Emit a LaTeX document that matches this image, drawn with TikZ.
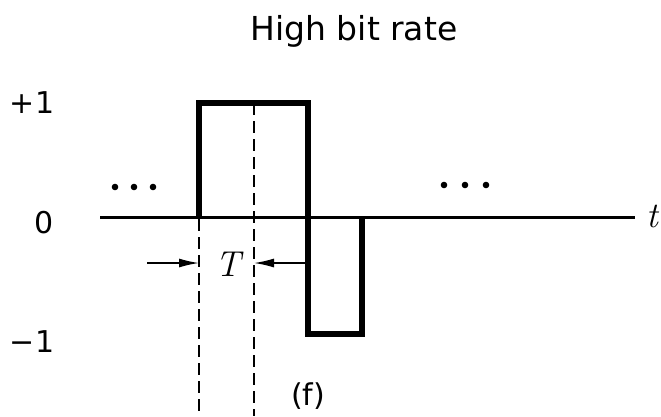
\documentclass[tikz,border=0pt]{standalone}
\usepackage{fontspec}
\setmainfont{DejaVu Sans}
\newfontfamily\lmitfont{Latin Modern Roman}
\usetikzlibrary{arrows.meta}
\tikzset{
  pulse/.style={line width=5.5pt, line join=miter, line cap=butt},
  axisline/.style={line width=3pt},
  guide/.style={line width=1.8pt, dash pattern=on 12pt off 6pt},
  dimarrow/.style={line width=1.5pt, -{Latex[length=20pt,width=9pt]}},
  lbl/.style={inner sep=0pt, font=\fontsize{30}{36}\selectfont},
  mathlbl/.style={inner sep=0pt, font=\fontsize{36}{42}\selectfont\lmitfont\itshape},
  dotmark/.style={fill=black, draw=none}
}
\begin{document}
\begin{tikzpicture}[x=1pt,y=-1pt]
\useasboundingbox (0,0) rectangle (661,416);
% key coordinates
\coordinate (a0) at (100,217);
\coordinate (a1) at (635,217);
\coordinate (p0) at (199,217);
\coordinate (p1) at (199,103);
\coordinate (p2) at (308,103);
\coordinate (p3) at (308,334);
\coordinate (p4) at (362,334);
\coordinate (p5) at (362,217);
\coordinate (d1top) at (199,219);
\coordinate (d1bot) at (199,416);
\coordinate (d2top) at (254,103);
\coordinate (d2bot) at (254,416);
\coordinate (la) at (147,263);
\coordinate (lb) at (199,263);
\coordinate (ra) at (308,263);
\coordinate (rb) at (254,263);
% guides
\draw[guide] (d1top) -- (d1bot);
\draw[guide] (d2top) -- (d2bot);
% axis
\draw[axisline] (a0) -- (a1);
% pulse
\draw[pulse] (p0) -- (p1) -- (p2) -- (p3) -- (p4) -- (p5);
% T arrows
\draw[dimarrow] (la) -- (lb);
\draw[dimarrow] (ra) -- (rb);
% dots
\foreach \x in {115,134,153} \fill[dotmark] (\x,187) circle (3.3pt);
\foreach \x in {444,465,486} \fill[dotmark] (\x,185) circle (3.3pt);
% labels
\node[inner sep=0pt, font=\fontsize{33}{40}\selectfont] (title) at (354,31) {High bit rate};
\node[lbl] (plus) at (32,103) {+1};
\node[lbl] (zero) at (44,223) {0};
\node[lbl] (minus) at (32,342) {−1};
\node[mathlbl] (T) at (228,264) {T};
\node[mathlbl] (t) at (652,216) {t};
\node[lbl] (f) at (308,396) {(f)};
\end{tikzpicture}
\end{document}
